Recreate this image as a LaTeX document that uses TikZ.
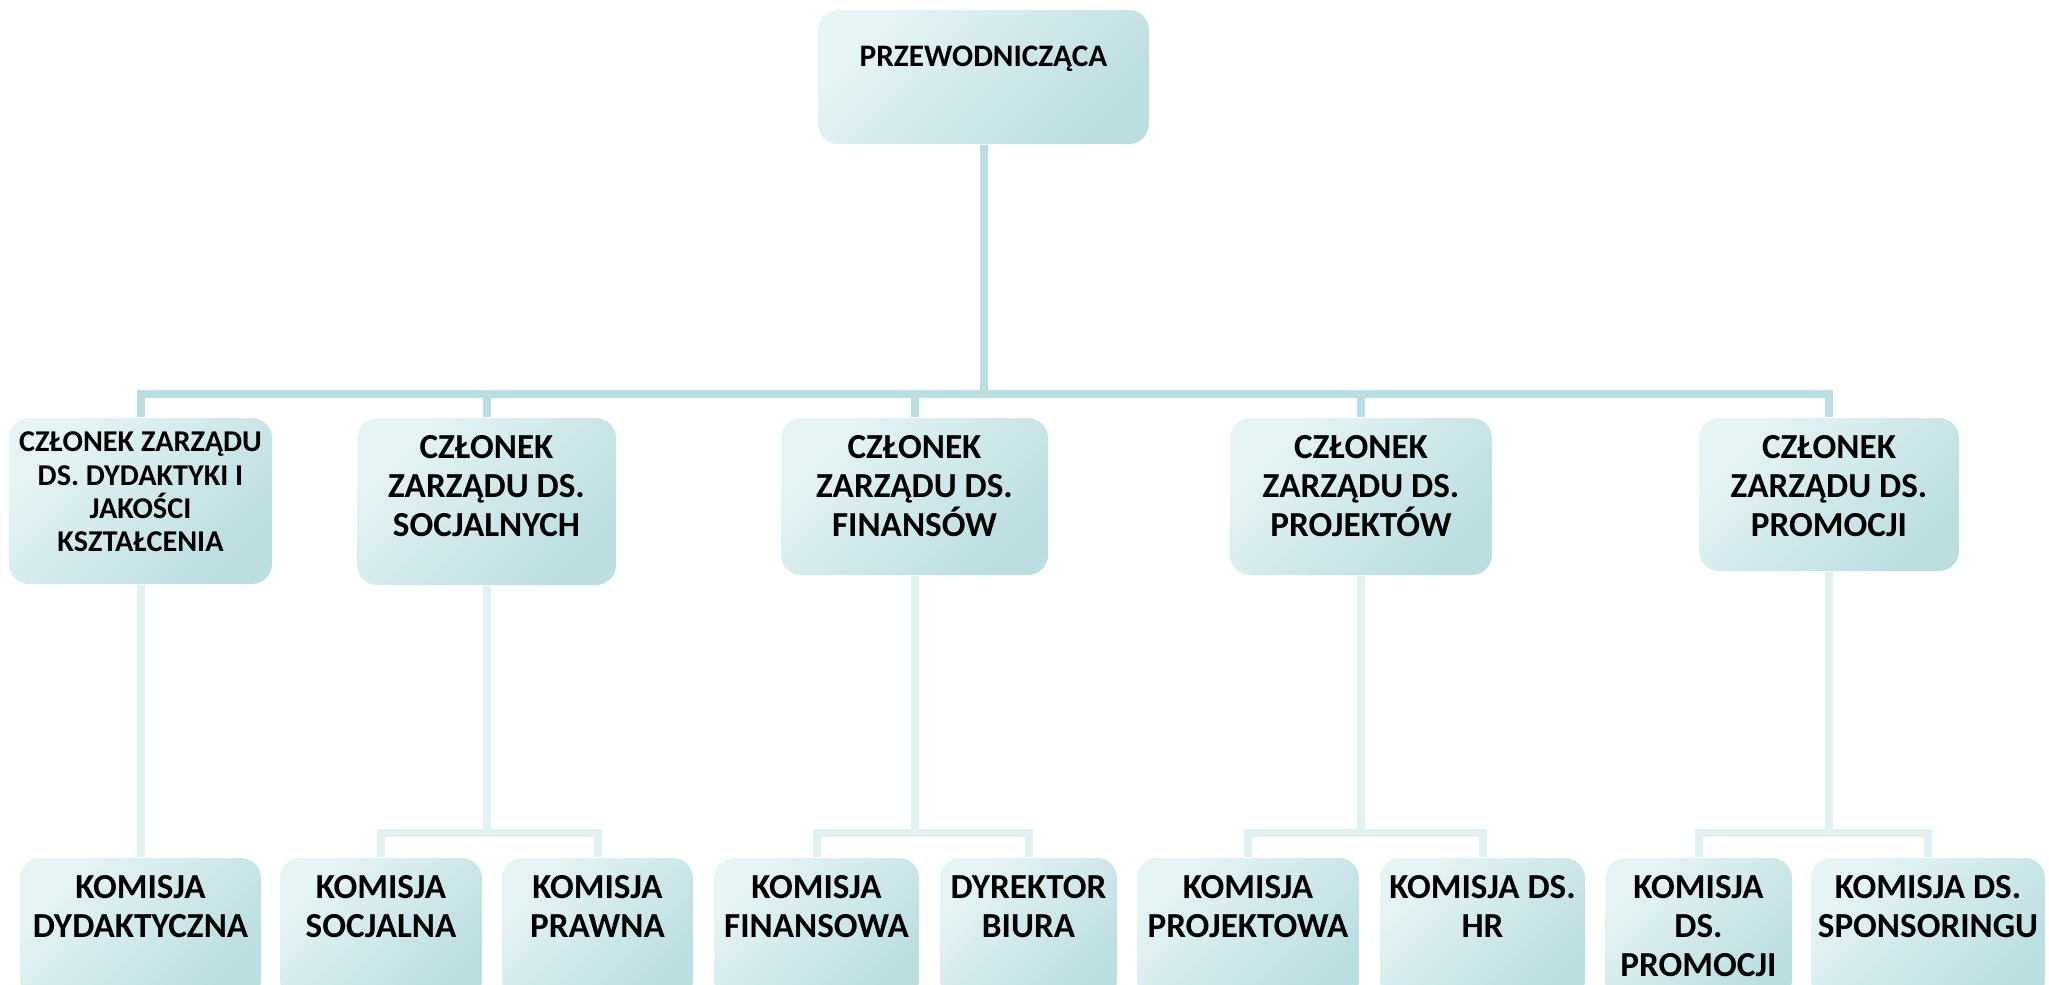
\documentclass[tikz,border=0pt]{standalone}
\usepackage{fontspec}
\setmainfont{Carlito}
\usetikzlibrary{positioning}
\definecolor{tealdark}{HTML}{BBDEE1}
\definecolor{teallight}{HTML}{E7F4F5}
\definecolor{linkdark}{HTML}{BBDEE1}
\definecolor{linklight}{HTML}{E1F1F2}
\begin{document}
\begin{tikzpicture}[
  box/.style={rectangle, rounded corners=0.2cm, inner sep=0pt, top color=teallight, bottom color=tealdark, shading angle=45},
  txt/.style={anchor=north, align=center, inner sep=0pt, font=\fontsize{10}{11.2}\selectfont\bfseries},
  smtxt/.style={txt, font=\fontsize{8.6}{9.5}\selectfont\bfseries},
  trunk/.style={draw=linkdark, line width=0.08cm},
  branch/.style={draw=linklight, line width=0.08cm}
]
\clip (0,0) rectangle (20.49,-9.84);
\coordinate (bar) at (0,-3.94);
\coordinate (sub) at (0,-8.33);

% top
\node[box, minimum width=3.31cm, minimum height=1.34cm] (head) at (9.835,-0.77) {};
\node[smtxt, font=\fontsize{8.9}{10}\selectfont\bfseries] (headt) at ([yshift=-0.36cm]head.north) {PRZEWODNICZĄCA};

% board members
\node[box, minimum width=2.63cm, minimum height=1.66cm] (c1) at (1.405,-5.01) {};
\node[box, minimum width=2.59cm, minimum height=1.67cm] (c2) at (4.865,-5.015) {};
\node[box, minimum width=2.67cm, minimum height=1.57cm] (c3) at (9.145,-4.965) {};
\node[box, minimum width=2.62cm, minimum height=1.57cm] (c4) at (13.61,-4.965) {};
\node[box, minimum width=2.60cm, minimum height=1.53cm] (c5) at (18.29,-4.945) {};
\node[smtxt] (c1t) at ([yshift=-0.14cm]c1.north) {CZŁONEK ZARZĄDU\\DS. DYDAKTYKI I\\JAKOŚCI\\KSZTAŁCENIA};
\node[txt] (c2t) at ([yshift=-0.17cm]c2.north) {CZŁONEK\\ZARZĄDU DS.\\SOCJALNYCH};
\node[txt] (c3t) at ([yshift=-0.17cm]c3.north) {CZŁONEK\\ZARZĄDU DS.\\FINANSÓW};
\node[txt] (c4t) at ([yshift=-0.17cm]c4.north) {CZŁONEK\\ZARZĄDU DS.\\PROJEKTÓW};
\node[txt] (c5t) at ([yshift=-0.17cm]c5.north) {CZŁONEK\\ZARZĄDU DS.\\PROMOCJI};

% commissions
\node[box, minimum width=2.41cm, minimum height=1.42cm] (k1) at (1.405,-9.29) {};
\node[box, minimum width=2.02cm, minimum height=1.42cm] (k2) at (3.81,-9.29) {};
\node[box, minimum width=1.91cm, minimum height=1.42cm] (k3) at (5.975,-9.29) {};
\node[box, minimum width=2.05cm, minimum height=1.42cm] (k4) at (8.165,-9.29) {};
\node[box, minimum width=1.77cm, minimum height=1.42cm] (k5) at (10.285,-9.29) {};
\node[box, minimum width=2.22cm, minimum height=1.42cm] (k6) at (12.48,-9.29) {};
\node[box, minimum width=2.05cm, minimum height=1.42cm] (k7) at (14.825,-9.29) {};
\node[box, minimum width=1.87cm, minimum height=1.42cm] (k8) at (16.985,-9.29) {};
\node[box, minimum width=2.34cm, minimum height=1.42cm] (k9) at (19.28,-9.29) {};
\node[txt] (k1t) at ([yshift=-0.17cm]k1.north) {KOMISJA\\DYDAKTYCZNA};
\node[txt] (k2t) at ([yshift=-0.17cm]k2.north) {KOMISJA\\SOCJALNA};
\node[txt] (k3t) at ([yshift=-0.17cm]k3.north) {KOMISJA\\PRAWNA};
\node[txt] (k4t) at ([yshift=-0.17cm]k4.north) {KOMISJA\\FINANSOWA};
\node[txt] (k5t) at ([yshift=-0.17cm]k5.north) {DYREKTOR\\BIURA};
\node[txt] (k6t) at ([yshift=-0.17cm]k6.north) {KOMISJA\\PROJEKTOWA};
\node[txt] (k7t) at ([yshift=-0.17cm]k7.north) {KOMISJA DS.\\HR};
\node[txt] (k8t) at ([yshift=-0.17cm]k8.north) {KOMISJA\\DS.\\PROMOCJI};
\node[txt] (k9t) at ([yshift=-0.17cm]k9.north) {KOMISJA DS.\\SPONSORINGU};

% upper links
\draw[trunk] (head.south) -- (head.south |- bar);
\draw[trunk] (c1.north) -- (c1.north |- bar) -- (c5.north |- bar) -- (c5.north);
\draw[trunk] (c2.north) -- (c2.north |- bar);
\draw[trunk] (c3.north) -- (c3.north |- bar);
\draw[trunk] (c4.north) -- (c4.north |- bar);

% lower links
\draw[branch] (c1.south) -- (k1.north);
\draw[branch] (c2.south) -- (c2.south |- sub);
\draw[branch] (k2.north) |- (k3.north |- sub) -- (k3.north);
\draw[branch] (c3.south) -- (c3.south |- sub);
\draw[branch] (k4.north) |- (k5.north |- sub) -- (k5.north);
\draw[branch] (c4.south) -- (c4.south |- sub);
\draw[branch] (k6.north) |- (k7.north |- sub) -- (k7.north);
\draw[branch] (c5.south) -- (c5.south |- sub);
\draw[branch] (k8.north) |- (k9.north |- sub) -- (k9.north);
\end{tikzpicture}
\end{document}
